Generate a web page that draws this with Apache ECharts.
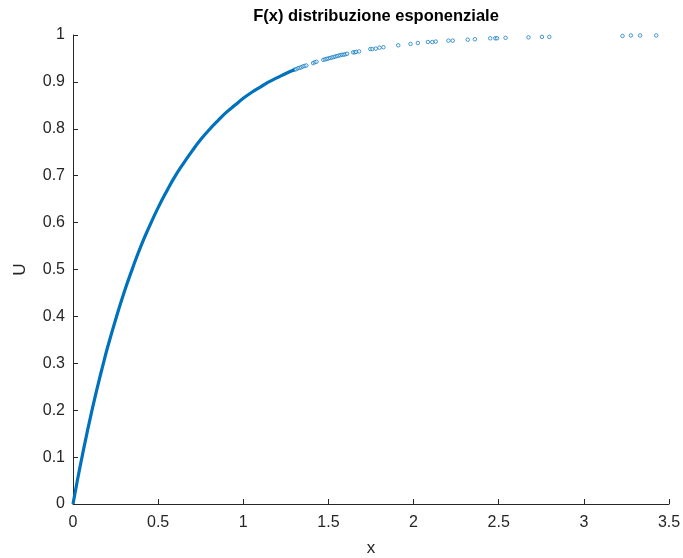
<!DOCTYPE html>
<html>
<head>
<meta charset="utf-8">
<script src="https://cdn.jsdelivr.net/npm/echarts@6/dist/echarts.min.js"></script>
<style>html,body{margin:0;padding:0;background:#fff;overflow:hidden}#c{width:683px;height:558px}</style>
</head>
<body>
<div id="c"></div>
<script>
// Dense part of the sample, drawn as a thick trace
var denseX = [0,0.025,0.05,0.075,0.1,0.125,0.15,0.175,0.2,0.25,0.3,0.35,0.4,0.45,0.5,0.55,0.6,0.65,0.7,0.75,0.8,0.85,0.9,0.95,1.0,1.05,1.1,1.15,1.2,1.25,1.3];
var denseU = [0,0.049,0.095,0.139,0.181,0.221,0.259,0.295,0.330,0.393,0.451,0.503,0.551,0.593,0.632,0.667,0.699,0.727,0.753,0.777,0.798,0.817,0.835,0.850,0.865,0.878,0.889,0.900,0.909,0.918,0.926];
// Sparse individual samples in the tail
var sparseX = [1.30,1.31,1.32,1.33,1.34,1.35,1.36,1.37,1.41,1.42,1.43,1.47,1.48,1.49,1.50,1.51,1.52,1.53,1.54,1.55,1.56,1.57,1.58,1.59,1.60,1.61,1.645,1.655,1.663,1.68,1.746,1.758,1.778,1.80,1.823,1.91,1.982,2.025,2.084,2.11,2.13,2.205,2.23,2.318,2.36,2.45,2.48,2.49,2.54,2.675,2.754,2.797,3.227,3.276,3.33,3.425];
var sparseU = [0.926,0.927,0.929,0.930,0.931,0.933,0.934,0.935,0.940,0.942,0.943,0.947,0.948,0.949,0.950,0.951,0.952,0.953,0.954,0.955,0.956,0.957,0.958,0.958,0.959,0.960,0.963,0.963,0.964,0.965,0.970,0.970,0.971,0.973,0.974,0.978,0.981,0.983,0.985,0.985,0.986,0.988,0.988,0.990,0.991,0.993,0.993,0.993,0.994,0.995,0.996,0.996,0.998,0.999,0.999,0.999];
var titleText = 'F(x) distribuzione esponenziale';
var xName = 'x', yName = 'U';

function zip(a, b){ return a.map(function(v,i){ return [v, b[i]]; }); }
var FONT = 'Liberation Sans, Arial, Helvetica, sans-serif';
var AX = '#262626';
var BLUE = '#0072BD';

var chart = echarts.init(document.getElementById('c'), null, {renderer:'canvas'});
chart.setOption({
  animation: false,
  backgroundColor: '#fff',
  title: {
    text: titleText, left: 371, top: 3, textAlign: 'center',
    textStyle: {fontFamily: FONT, fontWeight: 'bold', fontSize: 16.5, color: '#000'}
  },
  grid: {left: 73, right: 14, top: 35, bottom: 54, containLabel: false, outerBoundsMode: 'none'},
  xAxis: {
    type: 'value', min: 0, max: 3.5, interval: 0.5,
    name: xName, nameLocation: 'middle', nameGap: 36,
    nameTextStyle: {fontFamily: FONT, fontSize: 17, color: AX},
    axisLine: {show: true, onZero: false, lineStyle: {color: AX, width: 1}},
    axisTick: {show: true, inside: true, length: 5, lineStyle: {color: AX}},
    axisLabel: {fontFamily: FONT, fontSize: 16, color: AX, margin: 11},
    splitLine: {show: false}
  },
  yAxis: {
    type: 'value', min: 0, max: 1, interval: 0.1,
    name: yName, nameLocation: 'middle', nameGap: 44,
    nameTextStyle: {fontFamily: FONT, fontSize: 17, color: AX},
    axisLine: {show: true, onZero: false, lineStyle: {color: AX, width: 1}},
    axisTick: {show: true, inside: true, length: 5, lineStyle: {color: AX}},
    axisLabel: {fontFamily: FONT, fontSize: 16, color: AX, margin: 8,
      formatter: function(v){ return String(Math.round(v*10)/10); }},
    splitLine: {show: false}
  },
  series: [
    {
      type: 'line', data: zip(denseX, denseU), smooth: true, showSymbol: false,
      lineStyle: {color: BLUE, width: 3.2}, itemStyle: {color: BLUE}
    },
    {
      type: 'scatter', data: zip(sparseX, sparseU), symbol: 'circle', symbolSize: 3.5,
      itemStyle: {color: 'rgba(255,255,255,0.6)', borderColor: BLUE, borderWidth: 0.9}
    }
  ]
});
</script>
</body>
</html>
